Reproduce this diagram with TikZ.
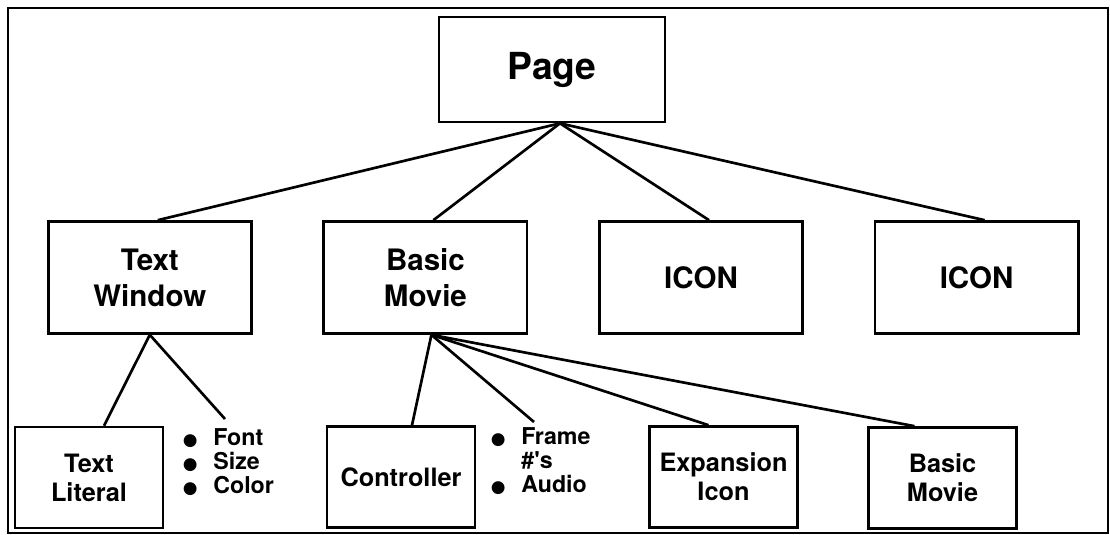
\documentclass[tikz,border=0pt]{standalone}
\usepackage{fontspec}
\setmainfont{TeX Gyre Heros}
\newfontfamily\dotfont{DejaVu Sans}
\usetikzlibrary{trees}

\newcommand{\bigdot}{\makebox[8pt]{\dotfont\fontsize{12}{12}\selectfont ●}}

\begin{document}
\begin{tikzpicture}[level distance=5.2cm,
                    level 1/.style={sibling distance=6.89cm, nodes={xshift=0.28cm}},
                    edge from parent/.style={draw, line width=1.9pt},
                    edge from parent path={([xshift=2mm]\tikzparentnode.south) -- ([xshift=2mm]\tikzchildnode.north)},
                    box/.style={draw, rectangle, line width=1.9pt, align=center},
                    topbox/.style={box, minimum width=5.65cm, minimum height=2.625cm, font=\bfseries\fontsize{26.5}{30}\selectfont},
                    midbox/.style={box, minimum width=5.08cm, minimum height=2.8cm, font=\bfseries\fontsize{21}{25.5}\selectfont},
                    lowbox/.style={box, minimum width=3.7cm, minimum height=2.525cm, font=\bfseries\fontsize{18}{20.5}\selectfont},
                    bullets/.style={inner sep=0pt, anchor=north west, font=\bfseries\fontsize{16.5}{16.4}\selectfont},
                    link/.style={line width=1.9pt}]
    \useasboundingbox (0,0) rectangle (27.75,-13.375);
    \draw[line width=2pt] (0.2,-0.2) rectangle (27.7,-13.325);
    % top two levels
    \node[topbox] (page) at (13.8,-1.7375) {Page}
        child {node[midbox] (window) {Text\\Window}}
        child {node[midbox] (movie) {Basic\\Movie}}
        child {node[midbox] (icona) {ICON}}
        child {node[midbox] (iconb) {ICON}};
    % bottom level
    \node[lowbox] (literal) at (2.225,-11.94) {Text\\Literal};
    \node[lowbox] (controller) at (10.025,-11.925) {Controller};
    \node[lowbox] (expansion) at (18.0875,-11.925) {Expansion\\Icon};
    \node[lowbox] (submovie) at (23.5625,-11.95) {Basic\\Movie};
    \node[bullets] (fontlist) at (4.61,-10.7) {\begin{tabular}{@{}c@{\hspace{12.4pt}}l@{}}
        \bigdot & Font\\ \bigdot & Size\\ \bigdot & Color\end{tabular}};
    \node[bullets] (framelist) at (12.31,-10.675) {\begin{tabular}{@{}c@{\hspace{12.4pt}}l@{}}
        \bigdot & Frame\\ & \#\textquotesingle s\\ \bigdot & Audio\end{tabular}};
    \coordinate (fontend) at (5.625,-10.475);
    \coordinate (frameend) at (13.35,-10.55);
    \draw[link] (window.south) -- ([xshift=3.75mm]literal.north);
    \draw[link] (window.south) -- (fontend);
    \draw[link] ([xshift=1.5mm]movie.south) -- ([xshift=2.75mm]controller.north);
    \draw[link] ([xshift=1.5mm]movie.south) -- (frameend);
    \draw[link] ([xshift=1.5mm]movie.south) -- ([xshift=-3.75mm]expansion.north);
    \draw[link] ([xshift=1.5mm]movie.south) -- ([xshift=-7mm]submovie.north);
\end{tikzpicture}
\end{document}
